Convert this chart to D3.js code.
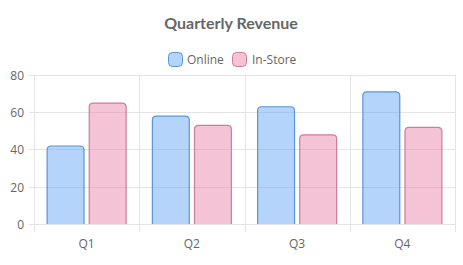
<!DOCTYPE html>
<html><head><meta charset="utf-8">
<script src="https://cdn.jsdelivr.net/npm/d3@7"></script>
<style>body{margin:0;background:#fff}svg{display:block}</style>
</head><body>
<svg id="c" width="463" height="265"></svg>
<script>
const categories = ["Q1","Q2","Q3","Q4"];
const online = [42, 58, 63, 71];
const inStore = [65, 53, 48, 52];
const yTicks = [0, 20, 40, 60, 80];
const seriesNames = ["Online", "In-Store"];

const W = 463, H = 265;
const m = {l:34, r:8, t:74.5, b:41};
const font = "'Open Sans', 'Noto Sans', sans-serif";
const svg = d3.select("#c");
const x = d3.scaleBand().domain(categories).range([m.l, W - m.r]);
const y = d3.scaleLinear().domain([0, 80]).range([H - m.b, m.t]);
const fills = ["rgba(90,160,248,0.45)", "rgba(235,130,170,0.48)"];
const strokes = ["rgb(88,150,214)", "rgb(206,124,154)"];
const grid = "#e5e5e5";

// Title
svg.append("text").attr("x", W/2 - 0.5).attr("y", 29).attr("text-anchor","middle")
  .attr("font-family", "Lato, 'Open Sans', sans-serif").attr("font-size", 16).attr("font-weight", "bold").attr("fill", "#666")
  .text("Quarterly Revenue");

// Legend
const legendItems = [{x:168, tx:187}, {x:232, tx:252}];
legendItems.forEach((it, i) => {
  svg.append("rect").attr("x", it.x + 0.5).attr("y", 52.5).attr("width", 14).attr("height", 14)
    .attr("rx", 4).attr("fill", fills[i]).attr("stroke", strokes[i]).attr("stroke-width", 1);
  svg.append("text").attr("x", it.tx).attr("y", 64).attr("font-family", font).attr("font-size", 12)
    .attr("fill", "#666").text(seriesNames[i]);
});

// Y gridlines
yTicks.forEach(t => {
  const yy = Math.round(y(t)) + 0.5;
  svg.append("line").attr("x1", m.l - 5).attr("x2", W - m.r).attr("y1", yy).attr("y2", yy)
    .attr("stroke", grid);
  svg.append("text").attr("x", 24).attr("y", yy + 4.5).attr("text-anchor", "end")
    .attr("font-family", font).attr("font-size", 12).attr("fill", "#666").text(t);
});
// X gridlines
const xEdges = categories.map(c => x(c)).concat([x.range()[1]]);
xEdges.forEach(e => {
  const xx = Math.round(e) + 0.5;
  svg.append("line").attr("x1", xx).attr("x2", xx).attr("y1", y(80)).attr("y2", y(0) + 8)
    .attr("stroke", grid);
});
categories.forEach(c => {
  svg.append("text").attr("x", x(c) + x.bandwidth()/2).attr("y", y(0) + 24).attr("text-anchor", "middle")
    .attr("font-family", font).attr("font-size", 12).attr("fill", "#666").text(c);
});

// Bars
const inner = d3.scaleBand().domain([0,1]).range([0, x.bandwidth()*0.8]).paddingInner(0.1).paddingOuter(0.05);
const r = 4;
function barPath(x0, x1, yTop, yBot) {
  return `M${x0},${yBot} L${x0},${yTop + r} Q${x0},${yTop} ${x0 + r},${yTop} L${x1 - r},${yTop} Q${x1},${yTop} ${x1},${yTop + r} L${x1},${yBot}`;
}
[online, inStore].forEach((vals, si) => {
  vals.forEach((v, i) => {
    const c = categories[i];
    const bx = x(c) + x.bandwidth()*0.1 + inner(si) + 0.5;
    const bw = inner.bandwidth() - 1;
    const top = y(v) + 0.5, bot = y(0);
    svg.append("path").attr("d", barPath(bx, bx + bw, top, bot) + "Z")
      .attr("fill", fills[si]).attr("stroke", "none");
    svg.append("path").attr("d", barPath(bx, bx + bw, top, bot))
      .attr("fill", "none").attr("stroke", strokes[si]).attr("stroke-width", 1.2);
  });
});
</script>
</body></html>
